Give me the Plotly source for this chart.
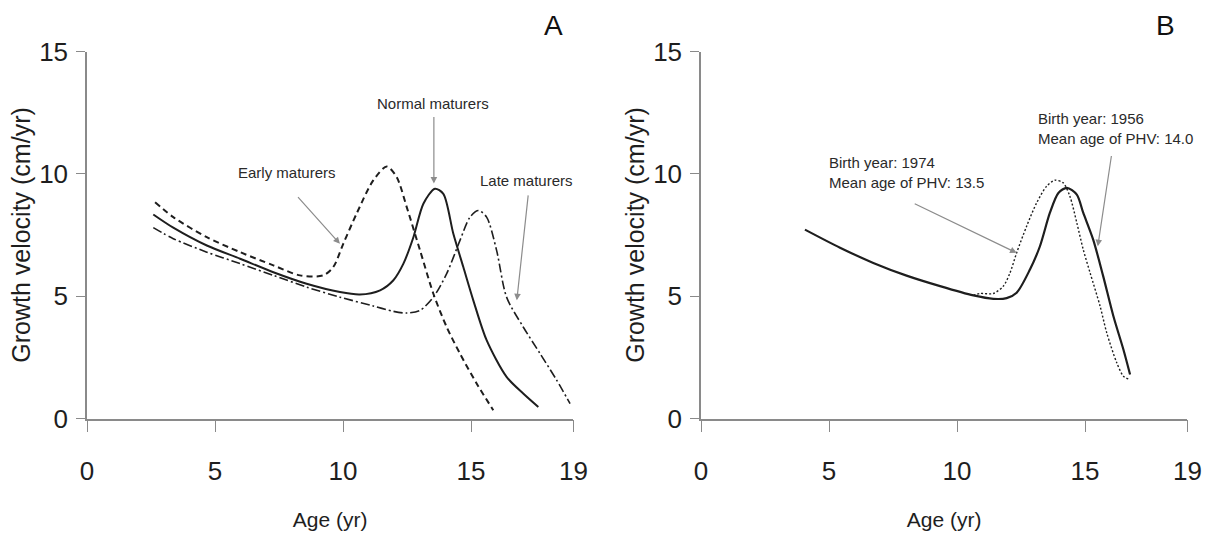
import plotly.graph_objects as go

# ---------------- data ----------------
# Panel A
early_x = [2.66, 3.37, 4.68, 5.98, 7.28, 8.32, 9.23, 9.62, 10.01, 10.53, 11.18, 11.71, 12.1, 12.49, 13.01, 13.53, 14.05, 14.57, 15.22, 15.87]
early_y = [8.84, 8.23, 7.41, 6.80, 6.26, 5.85, 5.85, 6.19, 7.14, 8.37, 9.73, 10.30, 9.86, 8.64, 6.87, 5.10, 3.74, 2.65, 1.43, 0.34]

normal_x = [2.59, 3.37, 4.68, 5.98, 7.28, 8.58, 9.88, 10.66, 11.45, 11.96, 12.36, 12.75, 13.14, 13.59, 13.92, 14.31, 14.7, 15.09, 15.61, 16.39, 17.04, 17.63]
normal_y = [8.34, 7.80, 7.07, 6.53, 5.98, 5.51, 5.17, 5.07, 5.24, 5.64, 6.33, 7.41, 8.78, 9.39, 9.18, 7.55, 6.19, 4.83, 3.20, 1.70, 1.02, 0.47]

late_x = [2.59, 3.37, 4.68, 5.98, 7.28, 8.58, 9.88, 11.18, 11.96, 12.49, 13.01, 13.53, 14.05, 14.57, 14.96, 15.29, 15.61, 16.0, 16.39, 17.04, 17.7, 18.35, 18.87]
late_y = [7.80, 7.35, 6.80, 6.33, 5.85, 5.37, 4.96, 4.60, 4.38, 4.31, 4.42, 4.96, 5.92, 7.28, 8.23, 8.50, 8.23, 6.87, 4.96, 3.74, 2.65, 1.56, 0.61]

# Panel B
b1956_x = [4.06, 5.43, 6.73, 8.03, 9.34, 10.64, 11.42, 11.94, 12.33, 12.85, 13.24, 13.63, 13.96, 14.29, 14.68, 14.93, 15.32, 15.71, 16.11, 16.5, 16.76]
b1956_y = [7.72, 6.98, 6.36, 5.84, 5.41, 5.03, 4.89, 4.92, 5.14, 6.09, 7.04, 8.41, 9.22, 9.43, 9.15, 8.41, 7.31, 5.82, 4.18, 2.82, 1.80]

b1974_x = [10.64, 10.9, 11.42, 11.81, 12.07, 12.33, 12.72, 13.11, 13.5, 13.83, 14.15, 14.41, 14.68, 14.93, 15.2, 15.59, 15.85, 16.24, 16.5, 16.69]
b1974_y = [5.03, 5.11, 5.11, 5.41, 5.95, 6.77, 7.86, 8.81, 9.49, 9.74, 9.63, 9.08, 8.00, 6.91, 5.95, 4.59, 3.50, 2.28, 1.73, 1.62]

x_ticks = [0, 5, 10, 15, 19]
y_ticks = [0, 5, 10, 15]

# ---------------- styling ----------------
FONT = "Liberation Sans, Arial, sans-serif"
INK = "#1e1e1e"
AX = "#8a8a8a"
ARROW = "#8c8c8c"

fig = go.Figure()

fig.add_trace(go.Scatter(x=early_x, y=early_y, mode="lines", name="Early maturers",
                         line=dict(color=INK, width=2, dash="6px,4px", shape="spline", smoothing=0.8),
                         xaxis="x", yaxis="y"))
fig.add_trace(go.Scatter(x=normal_x, y=normal_y, mode="lines", name="Normal maturers",
                         line=dict(color=INK, width=2, shape="spline", smoothing=0.8),
                         xaxis="x", yaxis="y"))
fig.add_trace(go.Scatter(x=late_x, y=late_y, mode="lines", name="Late maturers",
                         line=dict(color=INK, width=1.6, dash="9px,3px,2px,3px", shape="spline", smoothing=0.8),
                         xaxis="x", yaxis="y"))
fig.add_trace(go.Scatter(x=b1974_x, y=b1974_y, mode="lines", name="Birth year 1974",
                         line=dict(color=INK, width=1.4, dash="2px,2px", shape="spline", smoothing=0.8),
                         xaxis="x2", yaxis="y2"))
fig.add_trace(go.Scatter(x=b1956_x, y=b1956_y, mode="lines", name="Birth year 1956",
                         line=dict(color=INK, width=2.2, shape="spline", smoothing=0.8),
                         xaxis="x2", yaxis="y2"))

ydom = [1 - 418.5 / 535, 1 - 51.5 / 535]

def xaxis_cfg(dom, anchor):
    return dict(domain=dom, anchor=anchor, range=[0, 19], tickvals=x_ticks, ticktext=[str(t) for t in x_ticks],
                automargin=False,
                showline=True, linecolor=AX, linewidth=1.5, ticks="outside", ticklen=12, tickwidth=1.2,
                tickcolor=AX, showgrid=False, zeroline=False, ticklabelstandoff=17,
                tickfont=dict(family=FONT, size=26, color=INK),
                title=dict(text="Age (yr)", font=dict(family=FONT, size=21, color=INK), standoff=27))

def yaxis_cfg(anchor):
    return dict(domain=ydom, anchor=anchor, range=[0, 15], tickvals=y_ticks, ticktext=[str(t) for t in y_ticks],
                automargin=False,
                showline=True, linecolor=AX, linewidth=1.5, ticks="outside", ticklen=9, tickwidth=1.2,
                tickcolor=AX, showgrid=False, zeroline=False, ticklabelstandoff=3,
                tickfont=dict(family=FONT, size=26, color=INK),
                title=dict(text="Growth velocity (cm/yr)", font=dict(family=FONT, size=25, color=INK), standoff=1))

annotations = []

def add_label(text, x, y, xr, yr, align="center", xanchor="center"):
    annotations.append(dict(text=text, x=x, y=y, xref=xr, yref=yr, showarrow=False, align=align,
                            xanchor=xanchor, yanchor="middle",
                            font=dict(family=FONT, size=15, color="#2a2a2a")))

def add_arrow(x0, y0, x1, y1, xr, yr):
    annotations.append(dict(text="", x=x1, y=y1, ax=x0, ay=y0, xref=xr, yref=yr, axref=xr, ayref=yr,
                            showarrow=True, arrowhead=2, arrowsize=1.1, arrowwidth=1.2, arrowcolor=ARROW))

# Panel A labels
add_label("Early maturers", 7.83, 10.07, "x", "y")
add_arrow(8.19, 9.11, 9.88, 7.14, "x", "y")
add_label("Normal maturers", 13.5, 12.87, "x", "y")
add_arrow(13.55, 12.38, 13.55, 9.6, "x", "y")
add_label("Late maturers", 17.18, 9.73, "x", "y")
add_arrow(17.24, 9.18, 16.79, 4.83, "x", "y")

# Panel B labels
add_label("Birth year: 1974<br>Mean age of PHV: 13.5", 4.93, 10.04, "x2", "y2", align="left", xanchor="left")
add_arrow(8.29, 8.81, 12.33, 6.77, "x2", "y2")
add_label("Birth year: 1956<br>Mean age of PHV: 14.0", 13.09, 11.87, "x2", "y2", align="left", xanchor="left")
add_arrow(16.04, 10.79, 15.5, 7.04, "x2", "y2")

# Panel letters
annotations.append(dict(text="A", x=553 / 1209, y=1 - 25 / 535, xref="paper", yref="paper", showarrow=False,
                        xanchor="center", yanchor="middle", font=dict(family=FONT, size=28, color="#111")))
annotations.append(dict(text="B", x=1165 / 1209, y=1 - 25 / 535, xref="paper", yref="paper", showarrow=False,
                        xanchor="center", yanchor="middle", font=dict(family=FONT, size=28, color="#111")))

fig.update_layout(
    width=1209, height=535,
    margin=dict(l=0, r=0, t=0, b=0),
    paper_bgcolor="white", plot_bgcolor="white",
    showlegend=False,
    xaxis=xaxis_cfg([87 / 1209, 573.4 / 1209], "y"),
    yaxis=yaxis_cfg("x"),
    xaxis2=xaxis_cfg([701 / 1209, 1187.4 / 1209], "y2"),
    yaxis2=yaxis_cfg("x2"),
    annotations=annotations,
)

fig.write_html("out.html")
